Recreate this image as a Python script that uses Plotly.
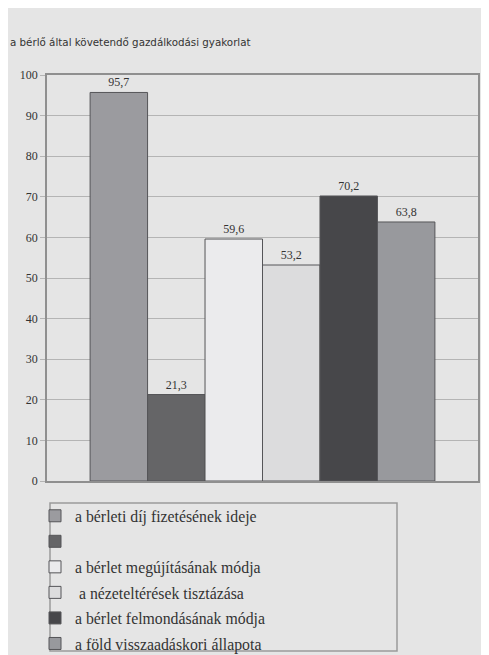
import plotly.graph_objects as go

title = "a bérlő által követendő gazdálkodási gyakorlat"
labels = [
    "a bérleti díj fizetésének ideje",
    " ",
    "a bérlet megújításának módja",
    " a nézeteltérések tisztázása",
    "a bérlet felmondásának módja",
    "a föld visszaadáskori állapota",
]
values = [95.7, 21.3, 59.6, 53.2, 70.2, 63.8]
colors = ["#9b9b9f", "#656567", "#ebebed", "#dcdcdd", "#47474a", "#98999d"]
yticks = [0, 10, 20, 30, 40, 50, 60, 70, 80, 90, 100]

SERIF = "Times New Roman, Liberation Serif, serif"
# the page body has an 8px margin; the figure starts at (8, 8) on screen
OFF = 8
W, H = 489 - OFF, 655 - OFF
ml, mr, mt, mb = 47 - OFF, 11, 75 - OFF, 174
pw, ph = W - ml - mr, H - mt - mb


def px_x(sx):
    return (sx - OFF - ml) / pw


def px_y(sy):
    return (mt + ph - (sy - OFF)) / ph


fig = go.Figure()
for i, (lab, v, c) in enumerate(zip(labels, values, colors)):
    fig.add_trace(go.Bar(
        x=[""], y=[v], name=lab,
        marker=dict(color=c, line=dict(color="#555558", width=1)),
        texttemplate="%{y:.1f}", textposition="outside",
        textfont=dict(family=SERIF, size=12, color="#333333"),
        cliponaxis=False,
        legendgroup=str(i),
    ))

fig.update_layout(
    width=W, height=H,
    margin=dict(l=ml, r=mr, t=mt, b=mb, autoexpand=False),
    paper_bgcolor="#e5e5e5",
    plot_bgcolor="#e5e5e5",
    separators=", ",
    barmode="group",
    bargap=0.2,
    bargroupgap=0,
    showlegend=True,
    legend=dict(
        x=px_x(35), y=px_y(499),
        xanchor="left", yanchor="top",
        bgcolor="rgba(0,0,0,0)", borderwidth=0,
        font=dict(family=SERIF, size=15.8, color="#333333"),
        traceorder="grouped", tracegroupgap=2,
        itemwidth=30,
    ),
    xaxis=dict(showticklabels=False, showline=True, linecolor="#8f8f8f",
               linewidth=1.5, mirror=True, ticks=""),
    yaxis=dict(range=[0, 100], tickvals=yticks, showgrid=True,
               gridcolor="#b4b4b4", gridwidth=1.2,
               showline=True, linecolor="#8f8f8f", linewidth=1.5, mirror=True,
               ticks="outside", ticklen=5, tickcolor="#b4b4b4",
               tickfont=dict(family=SERIF, size=12, color="#333333"),
               zeroline=False),
    shapes=[
        dict(type="rect", xref="paper", yref="paper",
             x0=px_x(50), x1=px_x(397), y0=px_y(651), y1=px_y(503),
             fillcolor="rgba(0,0,0,0)", line=dict(color="#9a9a9a", width=1.5),
             layer="below"),
    ],
    annotations=[dict(
        text=title, xref="paper", yref="paper",
        x=px_x(8), y=px_y(42), xanchor="left", yanchor="middle",
        showarrow=False,
        font=dict(family="DejaVu Sans", size=10.3, color="#333333"),
    )],
)

fig.write_html("out.html")
